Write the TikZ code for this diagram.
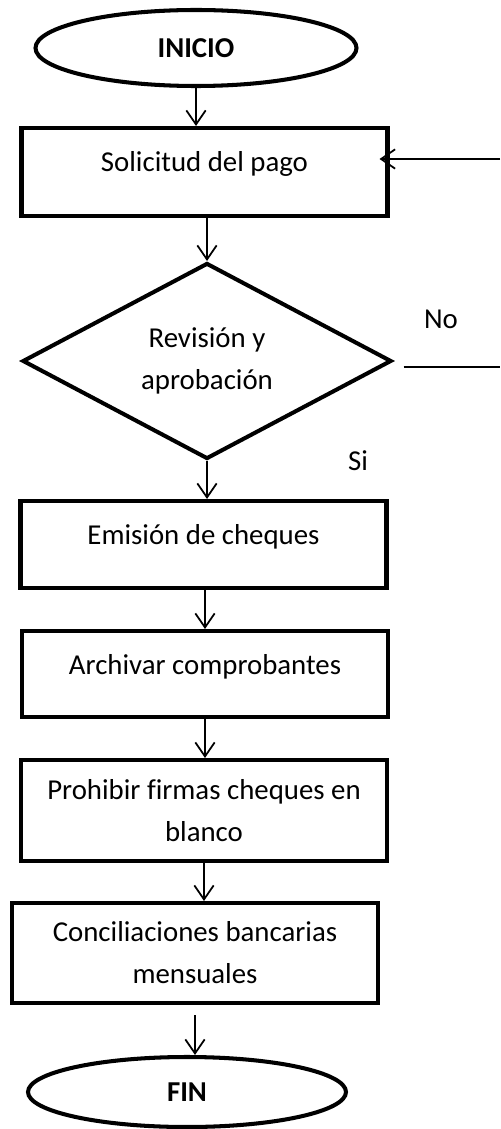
\documentclass[tikz,border=0pt]{standalone}
\usepackage{fontspec}
\setmainfont{Carlito}[Ligatures=NoCommon]
\usetikzlibrary{arrows.meta,positioning,shapes.geometric}

\tikzset{
  caja/.style={draw,line width=2.3pt,rectangle,minimum width=7.32cm,inner sep=0pt,align=center},
  arriba/.style={text height=12pt,text depth=12pt},
  terminal/.style={draw,line width=2.3pt,ellipse,inner sep=0pt},
  decision/.style={draw,line width=2.3pt,diamond,aspect=1.88,inner sep=0pt,align=center},
  flecha/.style={->,line width=1pt},
  linea/.style={line width=1pt}
}

\begin{document}
\begin{tikzpicture}[x=0.2mm,y=-0.2mm,>={Straight Barb[length=8pt,width=11pt]},
  font=\fontsize{16.4}{23.8}\selectfont]
  \useasboundingbox (0,0) rectangle (500,1129);
  % pasos del proceso
  \node[terminal,minimum width=6.42cm,minimum height=1.52cm] (inicio) at (196,48) {\textbf{INICIO}};
  \node[caja,arriba,minimum height=1.76cm] (pago) at (204.5,172) {Solicitud del pago};
  \node[decision,minimum width=7.38cm,minimum height=3.92cm] (rev) at (207,361) {Revisión y\\aprobación};
  \node[caja,arriba,minimum height=1.74cm] (emision) at (203.5,544.5) {Emisión de cheques};
  \node[caja,arriba,minimum height=1.72cm] (archivar) at (205,674) {Archivar comprobantes};
  \node[caja,minimum height=2.02cm] (prohibir) at (204,810.5) {Prohibir firmas cheques en\\blanco};
  \node[caja,minimum height=2.0cm] (concil) at (195,953) {Conciliaciones bancarias\\mensuales};
  \node[terminal,minimum width=6.36cm,minimum height=1.4cm] (fin) at (187,1092) {\textbf{FIN}};
  % etiquetas
  \node (no) at (441,319) {No};
  \node (si) at (358,461) {Si};
  \coordinate (finno) at (500,367);
  \coordinate (retorno) at (500,159);
  % conectores
  \draw[flecha] (inicio.south) -- (inicio.south |- pago.north);
  \draw[flecha] (rev.north |- pago.south) -- (rev.north);
  \draw[flecha] (rev.south) -- (rev.south |- emision.north);
  \draw[flecha] (archivar.north |- emision.south) -- (archivar.north);
  \draw[flecha] (archivar.south) -- (archivar.south |- prohibir.north);
  \draw[flecha] (prohibir.south) -- (prohibir.south |- concil.north);
  \draw[flecha] ([yshift=-5.7pt]concil.south) -- (concil.south |- fin.north);
  \draw[linea] ([shift={(10,6)}]rev.east) -- (finno);
  \draw[flecha] (retorno) -- ([xshift=-5.7pt]retorno -| pago.east);
\end{tikzpicture}
\end{document}
